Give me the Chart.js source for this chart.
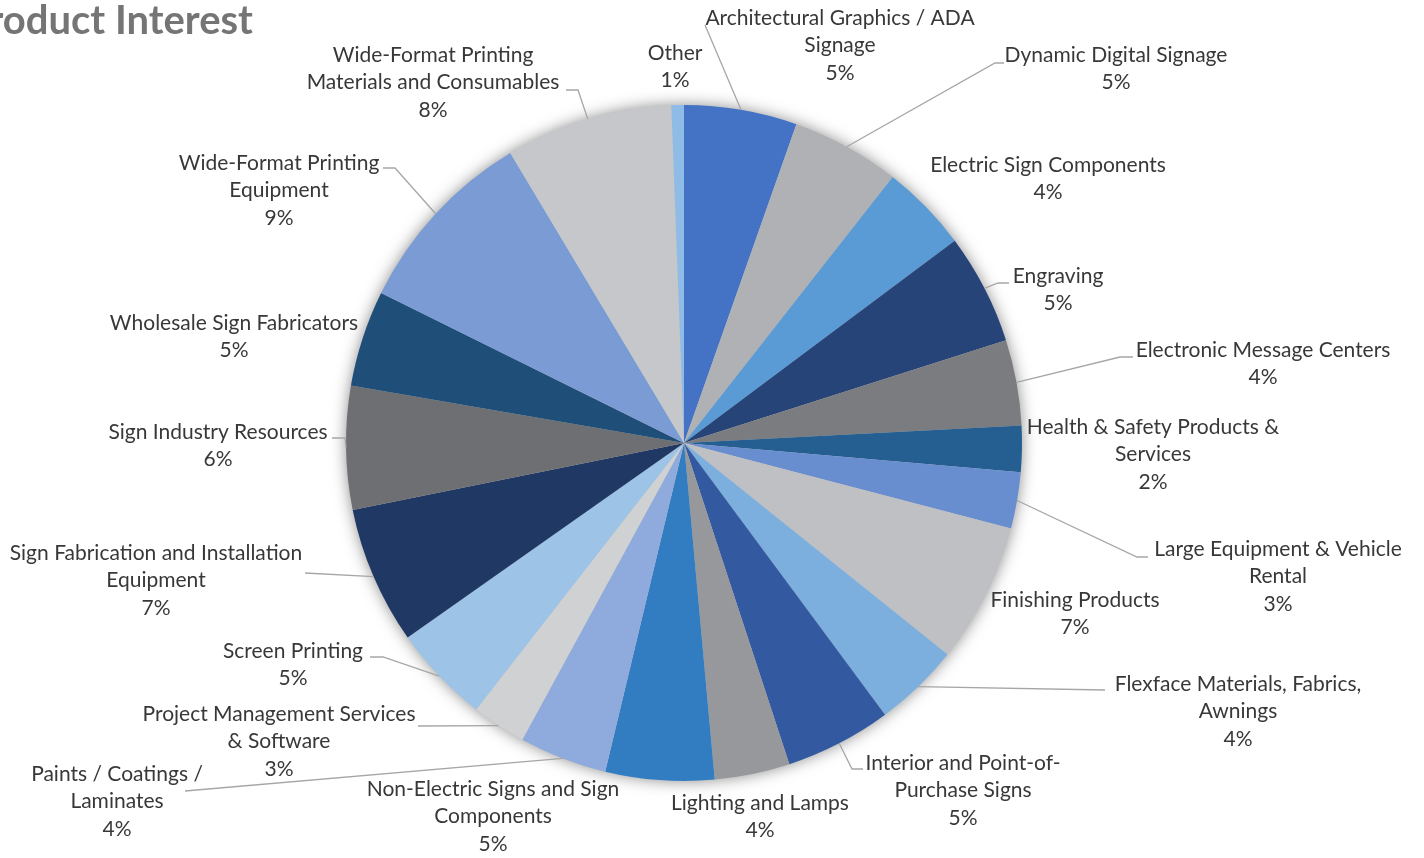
<!DOCTYPE html>
<html>
<head>
<meta charset="utf-8">
<title>Product Interest</title>
<script src="https://cdn.jsdelivr.net/npm/chart.js@4.4.1/dist/chart.umd.min.js"></script>
<style>
  html, body { margin: 0; padding: 0; background: #fff; }
  #wrap { position: relative; width: 1424px; height: 858px; overflow: hidden; }
</style>
</head>
<body>
<div id="wrap"><canvas id="pie"></canvas></div>
<script>
// --- Datos -----------------------------------------------------------------
// Categorías (ya partidas en líneas tal como se rotulan).
const CATEGORIES = [
  ['Architectural Graphics / ADA', 'Signage'],
  ['Dynamic Digital Signage'],
  ['Electric Sign Components'],
  ['Engraving'],
  ['Electronic Message Centers'],
  ['Health & Safety Products &', 'Services'],
  ['Large Equipment & Vehicle', 'Rental'],
  ['Finishing Products'],
  ['Flexface Materials, Fabrics,', 'Awnings'],
  ['Interior and Point-of-', 'Purchase Signs'],
  ['Lighting and Lamps'],
  ['Non-Electric Signs and Sign', 'Components'],
  ['Paints / Coatings /', 'Laminates'],
  ['Project Management Services', '& Software'],
  ['Screen Printing'],
  ['Sign Fabrication and Installation', 'Equipment'],
  ['Sign Industry Resources'],
  ['Wholesale Sign Fabricators'],
  ['Wide-Format Printing', 'Equipment'],
  ['Wide-Format Printing', 'Materials and Consumables'],
  ['Other'],
];

// Porcentaje de interés por categoría.
const SHARE = [5.4, 5.2, 4.2, 5.3, 4.1, 2.2, 2.7, 6.7, 4.1, 5.1, 3.6, 5.2, 4.2, 2.6, 4.7, 6.6, 5.9, 4.6, 9.1, 8.0, 0.6];

const COLORS = [
  '#4472C4', '#B0B1B4', '#5B9BD5', '#264478', '#7B7C7F', '#255E91', '#698ED0',
  '#BFC0C3', '#7CAFDD', '#335AA1', '#97989B', '#327DC2', '#8FAADC', '#D0D1D3',
  '#9DC3E6', '#203864', '#6E6F72', '#1F4E79', '#7A9BD4', '#C6C7CA', '#8FBCE6',
];

// --- Ubicación de rótulos ----------------------------------------------------
// x, y: centro de la primera línea del rótulo. leader: puntos de la guía
// desde el borde de la porción (el inicio se calcula con el ángulo medio).
const LABEL_POS = [
  { x: 840,  y: 18,  leader: [[705, 25]] },
  { x: 1116, y: 55,  leader: [[995, 63], [1004, 63]] },
  { x: 1048, y: 165 },
  { x: 1058, y: 276, leader: [[998, 283], [1009, 283]] },
  { x: 1263, y: 350, leader: [[1120, 357], [1133, 357]] },
  { x: 1153, y: 427 },
  { x: 1278, y: 549, leader: [[1137, 557], [1148, 557]] },
  { x: 1075, y: 600 },
  { x: 1238, y: 684, leader: [[1105, 690]] },
  { x: 963,  y: 763, leader: [[852, 769], [863, 769]] },
  { x: 760,  y: 803 },
  { x: 493,  y: 789 },
  { x: 117,  y: 774, leader: [[185, 791]] },
  { x: 279,  y: 714, leader: [[418, 726]] },
  { x: 293,  y: 651, leader: [[383, 657], [370, 657]] },
  { x: 156,  y: 553, leader: [[305, 573]] },
  { x: 218,  y: 432, leader: [[345, 438], [332, 438]] },
  { x: 234,  y: 323 },
  { x: 279,  y: 163, leader: [[395, 168], [383, 168]] },
  { x: 433,  y: 55,  leader: [[578, 90], [566, 90]] },
  { x: 675,  y: 53 },
];

const FONT = 'Lato, "Open Sans", sans-serif';
const LINE_H = 27.5;
const total = SHARE.reduce((s, v) => s + v, 0);

// Sombra suave alrededor del círculo completo (antes de pintar las porciones).
const pieShadow = {
  id: 'pieShadow',
  beforeDatasetsDraw(chart) {
    const arc = chart.getDatasetMeta(0).data[0];
    if (!arc) return;
    const { x, y, outerRadius } = arc.getProps(['x', 'y', 'outerRadius'], true);
    const ctx = chart.ctx;
    ctx.save();
    ctx.shadowColor = 'rgba(0,0,0,0.5)';
    ctx.shadowBlur = 16;
    ctx.fillStyle = '#c8c8c8';
    ctx.beginPath();
    ctx.arc(x, y, outerRadius - 1, 0, Math.PI * 2);
    ctx.fill();
    ctx.restore();
  },
};

// Rótulos con nombre + porcentaje y líneas guía.
const sliceLabels = {
  id: 'sliceLabels',
  afterDatasetsDraw(chart) {
    const ctx = chart.ctx;
    const arcs = chart.getDatasetMeta(0).data;
    ctx.save();
    arcs.forEach((arc, i) => {
      const pos = LABEL_POS[i];
      const { x, y, startAngle, endAngle, outerRadius } =
        arc.getProps(['x', 'y', 'startAngle', 'endAngle', 'outerRadius'], true);
      if (pos.leader) {
        const mid = (startAngle + endAngle) / 2;
        ctx.strokeStyle = '#A6A6A6';
        ctx.lineWidth = 1.3;
        ctx.beginPath();
        ctx.moveTo(x + outerRadius * Math.cos(mid), y + outerRadius * Math.sin(mid));
        pos.leader.forEach(([lx, ly]) => ctx.lineTo(lx, ly));
        ctx.stroke();
      }
      const pct = Math.round((SHARE[i] / total) * 100) + '%';
      const lines = [...CATEGORIES[i], pct];
      ctx.fillStyle = '#383838';
      ctx.font = `21px ${FONT}`;
      ctx.textAlign = 'center';
      ctx.textBaseline = 'middle';
      lines.forEach((t, k) => ctx.fillText(t, pos.x, pos.y + k * LINE_H));
    });

    // Título (recortado por el borde izquierdo).
    ctx.fillStyle = '#757575';
    ctx.font = `bold 40px ${FONT}`;
    ctx.textAlign = 'right';
    ctx.textBaseline = 'alphabetic';
    ctx.fillText('Product Interest', 253, 34);
    ctx.restore();
  },
};

new Chart(document.getElementById('pie'), {
  type: 'pie',
  data: {
    labels: CATEGORIES,
    datasets: [{ data: SHARE, backgroundColor: COLORS, borderWidth: 0 }],
  },
  options: {
    responsive: true,
    maintainAspectRatio: false,
    animation: false,
    layout: { padding: { left: 300, right: 356, top: 105, bottom: 77 } },
    plugins: { legend: { display: false }, tooltip: { enabled: false } },
  },
  plugins: [pieShadow, sliceLabels],
});
</script>
</body>
</html>
